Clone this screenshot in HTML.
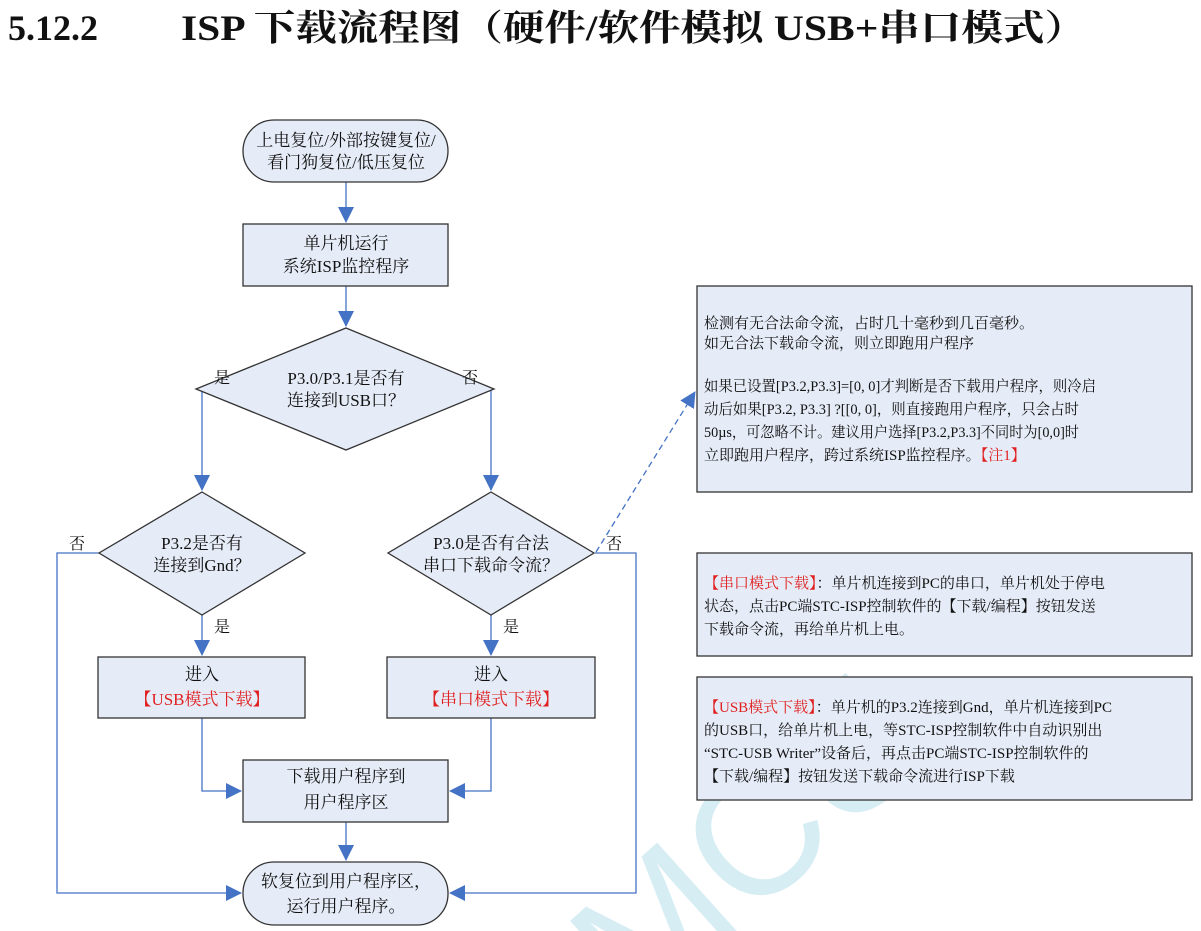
<!DOCTYPE html>
<html><head><meta charset="utf-8"><style>
html,body{margin:0;padding:0;background:#fff;width:1201px;height:931px;overflow:hidden}
svg{display:block}
text{font-family:"Liberation Serif","Noto Serif CJK SC",serif;fill:#111}
</style></head><body>
<svg width="1201" height="931" viewBox="0 0 1201 931" xmlns="http://www.w3.org/2000/svg" style="overflow:hidden">
<defs>
<marker id="ah2" markerWidth="16" markerHeight="16" refX="15" refY="8" orient="auto" markerUnits="userSpaceOnUse" viewBox="0 0 16 16">
<path d="M0,0 L16,8 L0,16 z" fill="#4472c4"/></marker>
<clipPath id="cp"><rect x="0" y="0" width="1201" height="931"/></clipPath>
</defs>
<!-- watermark -->
<g clip-path="url(#cp)">
<text x="0" y="0" transform="translate(640,1020) rotate(-42)" font-size="175" style="font-family:'Liberation Sans',sans-serif;fill:#d6edf4">MCU</text>
</g>
<!-- title -->
<text x="8" y="40" font-size="36" font-weight="bold">5.12.2</text>
<text x="181" y="40" font-size="36" font-weight="bold" textLength="905" lengthAdjust="spacingAndGlyphs">ISP 下载流程图（硬件/软件模拟 USB+串口模式）</text>

<g stroke="#4472c4" stroke-width="1.3" fill="none">
<line x1="346" y1="182" x2="346" y2="222" marker-end="url(#ah2)"/>
<line x1="346" y1="286" x2="346" y2="326" marker-end="url(#ah2)"/>
<polyline points="196,389 202,389 202,490" marker-end="url(#ah2)"/>
<polyline points="494,389 491,389 491,490" marker-end="url(#ah2)"/>
<line x1="202" y1="615" x2="202" y2="655" marker-end="url(#ah2)"/>
<line x1="491" y1="615" x2="491" y2="655" marker-end="url(#ah2)"/>
<polyline points="202,718 202,791 241,791" marker-end="url(#ah2)"/>
<polyline points="491,718 491,791 450,791" marker-end="url(#ah2)"/>
<line x1="346" y1="822" x2="346" y2="860" marker-end="url(#ah2)"/>
<polyline points="99,553 57,553 57,893 241,893" marker-end="url(#ah2)"/>
<polyline points="595,553 636,553 636,893 450,893" marker-end="url(#ah2)"/>
<line x1="596" y1="552" x2="695" y2="392" stroke-dasharray="6,4" marker-end="url(#ah2)"/>
</g>

<g fill="#e6ecf7" stroke="#333" stroke-width="1.3">
<rect x="243" y="120" width="205" height="62" rx="31"/>
<rect x="243" y="224" width="205" height="62"/>
<polygon points="346,328 494,389 346,450 196,389"/>
<polygon points="202,492 305,553 202,615 99,553"/>
<polygon points="491,492 594,553 491,615 388,553"/>
<rect x="98" y="657" width="207" height="61"/>
<rect x="387" y="657" width="208" height="61"/>
<rect x="243" y="760" width="205" height="62"/>
<rect x="243" y="862" width="205" height="63" rx="31"/>
<rect x="697" y="286" width="495" height="206"/>
<rect x="697" y="553" width="495" height="103"/>
<rect x="697" y="677" width="495" height="123"/>
</g>

<g font-size="17" text-anchor="middle">
<text x="346" y="146">上电复位/外部按键复位/</text>
<text x="346" y="168">看门狗复位/低压复位</text>
<text x="346" y="249">单片机运行</text>
<text x="346" y="272">系统ISP监控程序</text>
<text x="346" y="384">P3.0/P3.1是否有</text>
<text x="346" y="406">连接到USB口？</text>
<text x="202" y="549">P3.2是否有</text>
<text x="202" y="571">连接到Gnd？</text>
<text x="491" y="549">P3.0是否有合法</text>
<text x="491" y="571">串口下载命令流？</text>
<text x="202" y="680">进入</text>
<text x="202" y="705" style="fill:#e02020">【USB模式下载】</text>
<text x="491" y="680">进入</text>
<text x="491" y="705" style="fill:#e02020">【串口模式下载】</text>
<text x="346" y="782">下载用户程序到</text>
<text x="346" y="808">用户程序区</text>
<text x="346" y="887">软复位到用户程序区，</text>
<text x="346" y="912">运行用户程序。</text>
</g>
<g font-size="16" text-anchor="middle">
<text x="222" y="383">是</text>
<text x="470" y="383">否</text>
<text x="222" y="632">是</text>
<text x="511" y="632">是</text>
<text x="77" y="549">否</text>
<text x="614" y="549">否</text>
</g>

<g font-size="15">
<text x="704" y="328">检测有无合法命令流，占时几十毫秒到几百毫秒。</text>
<text x="704" y="348">如无合法下载命令流，则立即跑用户程序</text>
<text x="704" y="391" textLength="392" lengthAdjust="spacingAndGlyphs">如果已设置[P3.2,P3.3]=[0, 0]才判断是否下载用户程序，则冷启</text>
<text x="704" y="414" textLength="375" lengthAdjust="spacingAndGlyphs">动后如果[P3.2, P3.3] ?[[0, 0]，则直接跑用户程序，只会占时</text>
<text x="704" y="437" textLength="375" lengthAdjust="spacingAndGlyphs">50µs，可忽略不计。建议用户选择[P3.2,P3.3]不同时为[0,0]时</text>
<text x="704" y="460">立即跑用户程序，跨过系统ISP监控程序。<tspan style="fill:#e02020">【注1】</tspan></text>

<text x="704" y="588"><tspan style="fill:#e02020">【串口模式下载】</tspan>：单片机连接到PC的串口，单片机处于停电</text>
<text x="704" y="611">状态，点击PC端STC-ISP控制软件的【下载/编程】按钮发送</text>
<text x="704" y="634">下载命令流，再给单片机上电。</text>

<text x="704" y="712"><tspan style="fill:#e02020">【USB模式下载】</tspan>：单片机的P3.2连接到Gnd，单片机连接到PC</text>
<text x="704" y="735">的USB口，给单片机上电，等STC-ISP控制软件中自动识别出</text>
<text x="704" y="758">“STC-USB Writer”设备后，再点击PC端STC-ISP控制软件的</text>
<text x="704" y="781">【下载/编程】按钮发送下载命令流进行ISP下载</text>
</g>
</svg>
</body></html>
